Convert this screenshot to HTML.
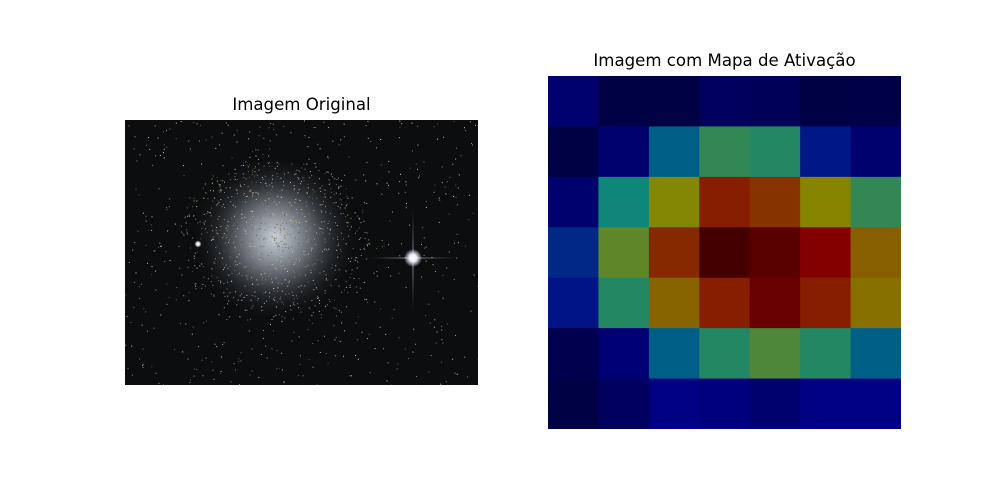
<!DOCTYPE html>
<html><head><meta charset="utf-8"><style>
body{margin:0;background:#fff;width:1000px;height:500px;overflow:hidden;font-family:"DejaVu Sans","Liberation Sans",sans-serif}
.t{position:absolute;font-size:16.6px;color:#000;text-align:center;white-space:nowrap}
</style></head><body>
<div class="t" style="left:125px;width:353px;top:95px">Imagem Original</div>
<div class="t" style="left:548px;width:353px;top:51px">Imagem com Mapa de Ativação</div>
<svg style="position:absolute;left:125px;top:120px" width="353" height="265">
<defs>
<radialGradient id="gal" cx="150" cy="118" r="85" gradientUnits="userSpaceOnUse">
<stop offset="0" stop-color="#c8d0d8"/><stop offset="0.25" stop-color="#8c949c"/><stop offset="0.6" stop-color="#34383c"/><stop offset="1" stop-color="#0a0c0e" stop-opacity="0"/></radialGradient>
<radialGradient id="st"><stop offset="0" stop-color="#fff"/><stop offset="0.4" stop-color="#eef"/><stop offset="1" stop-color="#fff" stop-opacity="0"/></radialGradient>
<linearGradient id="vs" x1="0" y1="0" x2="0" y2="1"><stop offset="0" stop-color="#aab" stop-opacity="0"/><stop offset="0.5" stop-color="#dde" stop-opacity="0.7"/><stop offset="1" stop-color="#aab" stop-opacity="0"/></linearGradient>
<linearGradient id="hs" x1="0" y1="0" x2="1" y2="0"><stop offset="0" stop-color="#aab" stop-opacity="0"/><stop offset="0.5" stop-color="#dde" stop-opacity="0.7"/><stop offset="1" stop-color="#aab" stop-opacity="0"/></linearGradient>
</defs>
<rect width="353" height="265" fill="#0b0d0f"/>
<ellipse cx="150" cy="118" rx="85" ry="78" fill="url(#gal)"/>
<g id="stars"></g>
<rect x="287.5" y="90" width="1" height="100" fill="url(#vs)"/>
<rect x="245" y="137.5" width="86" height="1" fill="url(#hs)"/>
<circle cx="288" cy="138" r="9" fill="url(#st)"/>
<circle cx="73" cy="124" r="3.5" fill="url(#st)"/>
</svg>
<svg id="hm" style="position:absolute;left:548px;top:76px" width="353" height="353"></svg>
<script>
const rows=["r0","r1","r2","r3","r4","r5","r6"];
const cols=["c0","c1","c2","c3","c4","c5","c6"];
const row0=[0.08,0.0,0.0,0.05,0.04,0.0,0.01];
const row1=[0.0,0.08,0.30,0.47,0.44,0.17,0.08];
const row2=[0.08,0.40,0.62,0.82,0.78,0.63,0.47];
const row3=[0.20,0.55,0.80,1.0,0.96,0.88,0.70];
const row4=[0.16,0.44,0.69,0.82,0.93,0.82,0.67];
const row5=[0.02,0.09,0.30,0.44,0.52,0.44,0.30];
const row6=[0.0,0.05,0.12,0.11,0.08,0.12,0.12];
const grid=[row0,row1,row2,row3,row4,row5,row6];
const ns="http://www.w3.org/2000/svg";
function clip(x){return Math.max(0,Math.min(1,x));}
function jet(v){const r=clip(1.5-Math.abs(4*v-3)),g=clip(1.5-Math.abs(4*v-2)),b=clip(1.5-Math.abs(4*v-1));const k=0.53*255;return `rgb(${Math.round(r*k)},${Math.round(g*k)},${Math.round(b*k)})`;}
const W=353,cw=W/cols.length,ch=W/rows.length;
const xs=i=>i*cw, ys=j=>j*ch;
const hm=document.getElementById('hm');
grid.forEach((row,j)=>row.forEach((v,i)=>{
 const r=document.createElementNS(ns,'rect');
 r.setAttribute('x',xs(i));r.setAttribute('y',ys(j));
 r.setAttribute('width',cw+0.5);r.setAttribute('height',ch+0.5);
 r.setAttribute('fill',jet(v));
 
 
 hm.appendChild(r);
}));
const sg=document.getElementById('stars');let s=7;
function rnd(){s=(s*16807)%2147483647;return s/2147483647;}
for(let n=0;n<1400;n++){
 let x,y;
 if(n<800){const a=rnd()*6.283,d=Math.pow(rnd(),0.7)*95;x=150+Math.cos(a)*d;y=118+Math.sin(a)*d*0.9;}
 else{x=rnd()*353;y=rnd()*265;}
 const c=document.createElementNS(ns,'rect');
 c.setAttribute('x',x.toFixed(1));c.setAttribute('y',y.toFixed(1));c.setAttribute('width',1);c.setAttribute('height',1);
 const b=Math.round(90+rnd()*120);
 c.setAttribute('fill',`rgb(${b},${b-8},${b-25})`);
 sg.appendChild(c);
}
</script>
</body></html>
